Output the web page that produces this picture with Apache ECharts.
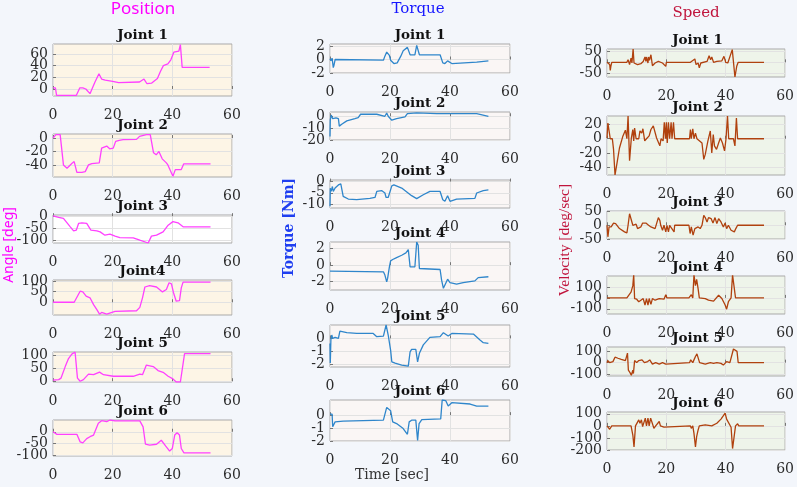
<!DOCTYPE html>
<html>
<head>
<meta charset="utf-8">
<script src="https://cdn.jsdelivr.net/npm/echarts@6/dist/echarts.min.js"></script>
<style>
  html, body { margin: 0; padding: 0; background: #F3F6FB; }
  #chart { width: 797px; height: 487px; }
</style>
</head>
<body>
<div id="chart"></div>
<script>
// ---- data: [time sec, value] ----
const posJ1 = [[0,2],[0.8,2],[1.2,-11],[7.8,-11],[9,2],[10,2],[11,0],[12.4,-8],[14,11],[15.4,26],[16.3,17],[17.5,15],[20,13],[22,11],[29,12],[30.5,17],[31.5,9],[33,10],[35,18],[36,30],[37,40],[38.5,43],[39.5,50],[40.5,63],[42.2,65],[42.7,76],[43.3,37],[52.5,37]];
const posJ2 = [[0,0],[1,5],[2.4,5],[3.5,-40],[4.1,-42],[4.7,-45],[6.3,-38],[7.1,-35],[8,-51],[9.7,-51],[10.8,-50],[11.9,-40],[13,-38],[15.5,-37],[16.3,-15],[18,-12],[19,-16],[20.2,-15],[21,-5],[22.2,-3.5],[23.5,-2.5],[28,-2],[29,2.5],[31.3,5],[32.6,5],[33.7,-22],[34.6,-25],[35.5,-20],[36.6,-31],[38,-37],[38.5,-40],[40.2,-57],[41,-47],[43,-47],[43.8,-38.5],[52.8,-38.5]];
const posJ3 = [[0,1],[1.9,-5],[3.5,-9],[5.8,-45],[6.9,-62],[7.8,-59],[8.6,-30],[9.7,-28],[11.3,-30],[12.7,-59],[14.7,-62],[15.8,-66],[17.4,-80],[19.1,-76],[20.8,-84],[22.4,-90],[26.9,-91],[29.1,-101],[31.9,-113],[33,-84],[34.7,-80],[36.9,-66],[38.6,-38],[40.2,-23],[41.9,-28],[43.6,-45],[52.8,-45]];
const posJ4 = [[0,0],[7.1,0],[9.1,52],[10,49],[11.1,29],[12.4,21],[13.6,-11],[14.7,-35],[15.6,-56],[16.3,-48],[18,-56],[20.8,-43],[28,-40],[29.1,-24],[30,21],[30.8,72],[32.4,79],[34.7,72],[36.7,49],[38,60],[38.9,92],[39.7,87],[40.4,45],[41.3,5],[42.4,8],[43,68],[43.6,95],[52.8,95]];
const posJ5 = [[0,4],[1.9,6],[2.7,12],[4.1,56],[5.2,87],[6.3,104],[7.4,112],[8.2,12],[9.1,0],[10.2,6],[11.9,27],[13.6,25],[15.6,35],[16.9,25],[20.2,19],[26.9,19],[29.1,27],[30,25],[31.3,62],[33.6,56],[35.2,41],[36.9,34],[38.6,19],[40.2,9],[41.3,-3],[42.7,-3],[44.1,106],[52.8,106]];
const posJ6 = [[0,0],[1.3,-11],[8,-11],[9.1,-43],[10,-47],[11.3,-29],[12.4,-21],[13.6,-14],[15.2,36],[16.3,47],[18,43],[19.1,50],[20.8,46],[29.1,46],[30.2,21],[31,-53],[32.4,-57],[34.7,-53],[36.3,-36],[37.8,-61],[39.1,-82],[40,-71],[40.8,-14],[41.6,-4],[42.4,-14],[43,-71],[43.9,-90],[52.8,-90]];

const torJ1 = [[0,0.1],[0.3,-0.2],[0.7,0.2],[1.1,-1.2],[1.3,-0.9],[1.7,0],[1.9,-0.1],[17.8,-0.1],[18.3,0.5],[18.9,1.1],[19.8,0.6],[20.2,-0.1],[21.3,-0.6],[22.4,-0.5],[23.6,0.5],[24.4,1.3],[25.8,1.8],[26.4,1.9],[26.7,0.7],[28.3,0.7],[28.9,2.1],[29.4,2.1],[29.8,0.7],[36.7,0.7],[37.6,-0.5],[38.3,-0.6],[39.2,-0.2],[40.6,-0.6],[48.9,-0.4],[49.4,-0.2],[52.8,-0.2]];
const torJ2 = [[0,-17],[0.1,-3],[0.4,1],[0.9,-2],[2,-1.4],[2.8,-2],[3.1,-8.3],[3.9,-6.7],[5.6,-3.9],[8.3,-2],[9.4,-1.1],[10.2,1.7],[15.6,1.7],[18.3,0],[18.9,2.8],[19.4,0],[20.6,-3.3],[22.2,-2],[25,-0.6],[25.8,2.2],[26.4,2.2],[28.9,2.8],[35.6,2.2],[40,2.2],[48.9,2.2],[52.8,0]];
const torJ3 = [[0,-11],[0.1,-3],[0.4,-4.4],[0.8,-2.2],[1.1,-4.4],[1.7,-2.9],[2.8,-1.5],[3.6,-1],[4.4,-6.6],[6.1,-7.8],[8.9,-8.1],[13.3,-7.5],[15,-7.1],[15.6,-4.4],[17.2,-4],[18.3,-5.1],[18.7,-7.1],[19.4,-7.1],[20.6,-1.9],[21.3,-1.5],[23.9,-2.9],[27.2,-6.3],[28.9,-7.6],[31.1,-5.9],[33.3,-4.4],[36.7,-4.4],[37.6,-8.1],[38.3,-8.8],[39.2,-6.3],[40,-8.8],[42.2,-7.8],[48.3,-7.5],[48.9,-5.1],[51.1,-4],[52.8,-3.7]];
const torJ4 = [[0,-0.72],[17.8,-0.8],[18.3,-1.2],[18.9,-2],[19.2,-1.6],[19.8,-0.2],[20.2,0.52],[20.9,0.68],[22.2,0.92],[23.9,1.2],[25.3,1.48],[26.1,1.88],[26.7,-0.2],[28.3,-0.2],[28.9,2.8],[29.4,2.4],[29.8,-0.4],[36.7,-0.52],[37.2,-1.8],[37.8,-2.8],[38.3,-2.9],[39.2,-1.7],[40,-2.1],[42.2,-2.3],[44.4,-2.1],[48.3,-1.9],[49.4,-1.5],[52.8,-1.4]];
const torJ5 = [[0,-0.4],[0.1,-1.9],[0.3,-0.1],[0.6,0.26],[0.9,0],[1.7,0.08],[2.8,0],[3.3,0.56],[5.6,0.44],[8.9,0.38],[14.4,0.38],[15.6,0.13],[17.8,0.18],[18.7,1.03],[19.4,0.26],[20.2,-0.9],[20.6,-1.8],[21.7,-1.9],[23.9,-2.05],[26.1,-2.13],[26.7,-1.03],[27.2,-0.85],[28.6,-0.85],[29.2,-1.8],[29.8,-1.15],[31.1,-0.5],[33.3,0.08],[36.7,0.13],[37.8,0.44],[38.3,0.51],[39.4,0.18],[40.6,0.38],[47.8,0.33],[50,-0.13],[51.1,-0.33],[52.8,-0.38]];
const torJ6 = [[0,0.08],[0.7,0.08],[0.9,-0.9],[1.3,-0.96],[1.7,-0.52],[4.4,-0.47],[17.8,-0.39],[18.9,0.6],[19.4,0.7],[20.2,0.34],[20.9,-0.52],[22.2,-0.65],[24.4,-1.04],[25.8,-1.48],[26.4,-0.52],[27.2,-0.39],[28.6,-0.39],[29.2,-1.95],[29.7,-0.65],[30.6,-0.34],[36.9,-0.29],[37.4,1.17],[38.6,1.12],[39.4,0.7],[40.6,0.96],[46.7,0.86],[48.9,0.7],[52.8,0.7]];

const spdJ1 = [[0,0],[0.9,-10],[1.1,-36],[1.3,-18],[1.6,0],[6.7,0],[7.1,12],[7.6,-10],[8.1,19],[8.4,-3],[8.8,60],[9.1,-3],[9.6,4],[10.3,-10],[11.4,-6],[12.2,4],[12.8,24],[13.1,4],[13.3,24],[13.8,-3],[14,24],[14.3,9],[14.8,34],[15.3,-15],[16.2,-3],[17.3,4],[18.7,-3],[19.8,-18],[20,0],[28.1,0],[28.7,7],[29.6,15],[30,-10],[30.7,-3],[31.1,-25],[31.6,-3],[33.7,4],[34.4,30],[34.9,12],[35.3,24],[35.9,0],[37,4],[38.7,7],[39.4,27],[40,0],[40.7,-3],[42.2,57],[42.7,49],[43.1,-66],[43.7,-18],[44.2,0],[52.9,0]];
const spdJ2 = [[0,1],[0.3,22],[0.9,21],[1.1,0],[1.8,0],[2.2,-15],[2.7,-51],[3.3,-36],[4.2,-13],[5.3,3],[6.2,12],[6.7,0],[7.1,32],[7.6,-31],[8.2,1],[8.7,13],[9,-3],[9.3,15],[9.8,0],[10.7,0],[11.1,11],[11.7,8],[12.1,14],[12.7,-3],[13.3,0],[14.2,4],[14.8,13],[15.6,18],[16.2,19],[16.7,1],[17.3,0],[17.8,-10],[18.2,0],[18.9,-3],[19.3,23],[19.7,0],[20,23],[20.3,-6],[20.7,23],[21.1,0],[21.6,23],[21.9,0],[22.4,23],[22.8,0],[27.8,0],[28.1,13],[28.4,0],[28.9,14],[29.3,0],[29.8,8],[30.3,0],[30.9,0],[32,-6],[32.6,-29],[33.1,-22],[34,-3],[34.8,11],[35.3,-20],[35.8,6],[36.2,-10],[36.9,-15],[37.6,-6],[38.2,1],[38.9,-6],[39.6,-17],[40.1,0],[40.6,32],[41,0],[42.6,0],[43.1,-10],[43.6,29],[44,0],[52.9,0]];
const spdJ3 = [[0,0],[0.3,-42],[0.7,-6],[1.4,-6],[2.2,8],[2.9,6],[4.2,-12],[5.9,-24],[6.7,-28],[7.1,0],[7.6,42],[8.1,40],[8.7,0],[9.2,-6],[9.8,4],[10.3,-12],[10.9,-18],[11.4,-6],[12,8],[13.1,8],[14,0],[14.8,-6],[15.3,0],[16.2,-12],[16.7,-6],[17.3,28],[17.8,18],[18.1,0],[18.7,-18],[19.2,0],[19.8,-24],[20.2,0],[20.7,-24],[21.1,0],[22.6,-24],[22.8,0],[27.6,0],[28,-30],[28.4,-6],[29,-36],[29.6,-12],[30.1,-18],[30.7,-6],[31.4,-12],[32,0],[32.6,36],[33.1,28],[33.7,12],[34.2,28],[35.1,24],[35.7,8],[36.4,28],[37,6],[37.6,24],[38.4,12],[39.2,-6],[39.8,8],[40.3,-12],[40.9,0],[41.8,-18],[42.3,-12],[42.9,-24],[43.4,-12],[44,0],[52.9,0]];
const spdJ4 = [[0,0],[6.7,0],[7.3,24],[8.1,53],[8.7,112],[9,210],[9.3,-6],[10,-12],[10.7,-35],[11.4,-21],[12.2,-6],[12.8,-65],[13.3,-6],[13.8,-65],[14.2,-6],[14.8,-59],[15.3,-6],[16.2,-21],[17.6,-6],[19.2,-12],[19.8,29],[20.2,0],[27.6,0],[28.4,29],[28.9,0],[29.3,210],[29.8,112],[30.2,170],[30.7,82],[31.1,0],[33.1,-6],[34.2,-21],[35.9,-29],[37.6,24],[38.7,-6],[39.8,-65],[40.3,-103],[40.9,-35],[41.8,0],[42.3,210],[42.9,210],[43.3,0],[52.9,0]];
const spdJ5 = [[0,0],[0.3,18],[0.9,0],[2,9],[2.7,47],[3.7,38],[4.8,29],[6.2,18],[6.9,82],[7.2,-65],[7.8,-88],[8.2,-109],[8.7,-65],[8.9,-94],[9.3,18],[10,0],[10.7,18],[11.8,24],[12.6,0],[13.7,9],[14.4,24],[15.3,-12],[16.4,0],[17.6,-12],[18.7,0],[19.8,-12],[20.3,0],[27.8,0],[28.2,24],[28.9,0],[29.3,24],[29.8,53],[30.3,76],[30.9,88],[31.2,0],[33.1,-12],[34.8,0],[35.9,-6],[37,0],[38.4,-6],[39.2,-21],[40.3,9],[41.4,0],[42.6,118],[43.1,135],[43.8,97],[44.2,0],[52.9,0]];
const spdJ6 = [[0,0],[0.4,0],[0.9,-28],[1.2,-34],[1.6,0],[8.1,0],[8.7,-76],[9.1,-174],[9.6,0],[10,8],[10.7,50],[11.1,22],[11.6,50],[12,-6],[12.9,64],[13.3,0],[13.8,64],[14.2,0],[14.7,64],[15.3,50],[15.8,-20],[16.4,0],[17.6,36],[18,0],[19.2,-11],[19.8,0],[28.1,0],[28.4,-20],[28.9,0],[29.3,-62],[29.8,-174],[30.2,-90],[30.7,-34],[31.1,0],[33.1,8],[35.3,0],[37,22],[38.4,56],[39.8,106],[40.3,56],[40.9,64],[41.8,-11],[42.3,-188],[42.9,-174],[43.3,0],[44,17],[44.4,0],[52.9,0]];

const jointTitles = ['Joint 1', 'Joint 2', 'Joint 3', 'Joint 4', 'Joint 5', 'Joint 6'];
const posTitles = ['Joint 1', 'Joint 2', 'Joint 3', 'Joint4', 'Joint 5', 'Joint 6'];

const posYTicks = [[0,20,40,60], [-40,-20,0], [-100,-50,0], [0,50,100], [0,50,100], [-100,-50,0]];
const torYTicks = [[-2,0,2], [-20,-10,0], [-10,-5,0], [-2,0,2], [-2,-1,0], [-2,-1,0]];
const spdYTicks = [[-50,0,50], [-40,-20,0,20], [-50,0,50], [-100,0,100], [-100,0,100], [-200,-100,0,100]];

const posRange = [[-12,77], [-58,6], [-113,5], [-60,105], [-3,112], [-103,50]];
const torRange = [[-2,2.3], [-20,3.6], [-11.8,0.7], [-3,2.8], [-2.2,1.03], [-2,1.17]];
const spdRange = [[-66,60], [-51,32], [-50,52], [-147,200], [-115,135], [-200,115]];

// ---- layout ----
const cols = [
  { left: 53, width: 179, line: '#FF40FF', bg: '#FDF5E6',
    tops: [[44,96],[134,177],[215,243],[280,315],[352,382],[420,456]],
    data: [posJ1,posJ2,posJ3,posJ4,posJ5,posJ6], ticks: posYTicks, range: posRange, titles: posTitles },
  { left: 330, width: 180, line: '#2F86CB', bg: '#FAF6F5',
    tops: [[44,73],[112,140],[180,208],[242,290],[325,367],[400,441]],
    data: [torJ1,torJ2,torJ3,torJ4,torJ5,torJ6], ticks: torYTicks, range: torRange, titles: jointTitles },
  { left: 607, width: 181, line: '#B0410E', bg: '#EEF4EA',
    tops: [[49,77],[116,175],[211,239],[276,314],[347,376],[412,450]],
    data: [spdJ1,spdJ2,spdJ3,spdJ4,spdJ5,spdJ6], ticks: spdYTicks, range: spdRange, titles: jointTitles }
];

const tickFont = { fontFamily: 'DejaVu Serif', fontSize: 14, color: '#2b2b2b' };

const grid = [], xAxis = [], yAxis = [], series = [], graphic = [];
cols.forEach((c, ci) => {
  c.data.forEach((d, j) => {
    const [top, bottom] = c.tops[j];
    const idx = grid.length;
    const ticks = c.ticks[j];
    // MATLAB packs the y labels tighter than ECharts allows on one axis,
    // so every other label goes on a twin axis over the same range
    const labA = ticks.filter((v, k) => k % 2 === 0);
    const labB = ticks.filter((v, k) => k % 2 === 1);
    grid.push({
      left: c.left, top: top, width: c.width, height: bottom - top,
      show: true, backgroundColor: (ci === 0 && j === 2) ? '#FFFFFF' : c.bg,
      borderColor: '#A9A9A9', borderWidth: 1
    });
    xAxis.push({
      gridIndex: idx, type: 'value', min: 0, max: 60, interval: 20,
      axisLine: { show: false },
      axisTick: { inside: true, length: 3, lineStyle: { color: '#777' } },
      axisLabel: Object.assign({ margin: 12, showMinLabel: true, showMaxLabel: true }, tickFont),
      splitLine: { show: true, lineStyle: { color: '#E2E2E2' } }
    });
    yAxis.push({
      gridIndex: idx, type: 'value', position: 'left', min: c.range[j][0], max: c.range[j][1],
      axisLine: { show: false },
      axisTick: { inside: true, length: 3, customValues: ticks, lineStyle: { color: '#777' } },
      axisLabel: Object.assign({ margin: 5, customValues: labA, showMinLabel: true, showMaxLabel: true }, tickFont),
      splitLine: { show: true, lineStyle: { color: '#E2E2E2' } }
    });
    yAxis.push({
      gridIndex: idx, type: 'value', position: 'left', offset: 0, min: c.range[j][0], max: c.range[j][1],
      axisLine: { show: false },
      axisTick: { show: false, customValues: labB.length ? labB : labA },
      axisLabel: Object.assign({ show: labB.length > 0, margin: 5, customValues: labB.length ? labB : labA,
                                 showMinLabel: true, showMaxLabel: true }, tickFont),
      splitLine: { show: false }
    });
    series.push({
      type: 'line', xAxisIndex: idx, yAxisIndex: idx * 2, data: d,
      symbol: 'none', clip: true, animation: false,
      lineStyle: { width: 1.3, color: c.line }
    });
    graphic.push({
      type: 'text', x: c.left + c.width / 2, y: top - 9,
      style: { text: c.titles[j], font: 'bold 13.5px "DejaVu Serif"', fill: '#111',
               align: 'center', verticalAlign: 'middle' }
    });
  });
});

graphic.push(
  { type: 'text', x: 143, y: 9, style: { text: 'Position', font: '17px "Noto Sans"', fill: '#FF00FF', align: 'center', verticalAlign: 'middle' } },
  { type: 'text', x: 418, y: 9, style: { text: 'Torque', font: '15px "DejaVu Serif"', fill: '#1515FF', align: 'center', verticalAlign: 'middle' } },
  { type: 'text', x: 696, y: 13, style: { text: 'Speed', font: '15px "DejaVu Serif"', fill: '#C0143C', align: 'center', verticalAlign: 'middle' } },
  { type: 'text', x: 9, y: 245, rotation: Math.PI / 2, style: { text: 'Angle [deg]', font: '14px "Noto Sans"', fill: '#FF00FF', align: 'center', verticalAlign: 'middle' } },
  { type: 'text', x: 289, y: 228, rotation: Math.PI / 2, style: { text: 'Torque [Nm]', font: 'bold 14px "DejaVu Serif"', fill: '#1F3FF0', align: 'center', verticalAlign: 'middle' } },
  { type: 'text', x: 565, y: 240, rotation: Math.PI / 2, style: { text: 'Velocity [deg/sec]', font: '15.5px "Liberation Serif"', fill: '#C0143C', align: 'center', verticalAlign: 'middle' } },
  { type: 'text', x: 392, y: 475, style: { text: 'Time [sec]', font: '14px "DejaVu Serif"', fill: '#333', align: 'center', verticalAlign: 'middle' } }
);

const myChart = echarts.init(document.getElementById('chart'), null, { renderer: 'canvas' });
myChart.setOption({
  backgroundColor: '#F3F6FB',
  animation: false,
  grid: grid,
  xAxis: xAxis,
  yAxis: yAxis,
  series: series,
  graphic: graphic
});
</script>
</body>
</html>
